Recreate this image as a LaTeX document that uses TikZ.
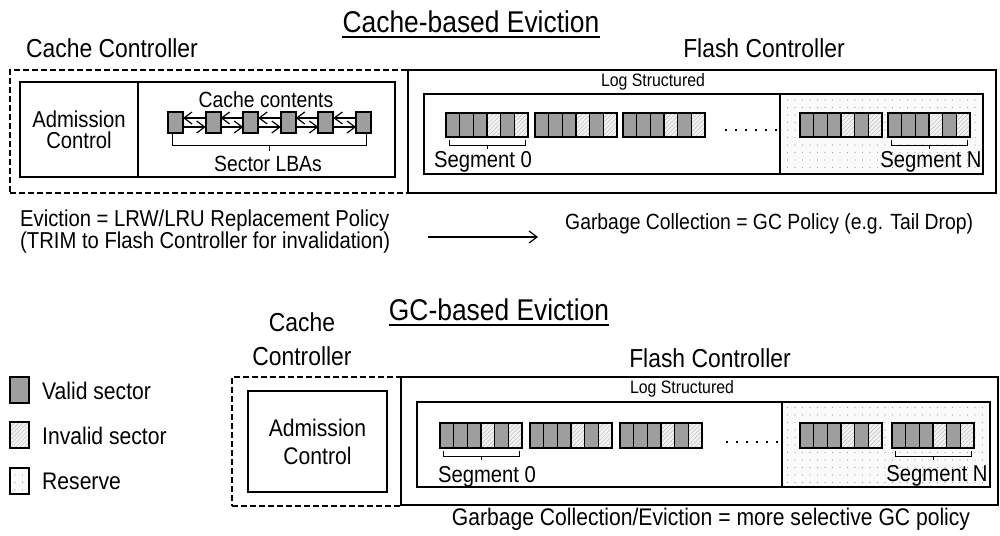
\documentclass[tikz,border=0pt]{standalone}
\usepackage{fontspec}
\setmainfont{Liberation Sans}[FakeStretch=0.88]
\usetikzlibrary{patterns.meta,arrows.meta,calc}

\tikzset{
  txt/.style={inner sep=0pt, font=\fontsize{24}{28}\selectfont},
  head/.style={inner sep=0pt, font=\fontsize{30}{34}\selectfont},
  ctrl/.style={inner sep=0pt, font=\fontsize{26}{34}\selectfont},
  smalltxt/.style={inner sep=0pt, font=\fontsize{18}{20}\selectfont},
  seglbl/.style={inner sep=0pt, font=\fontsize{23}{26}\selectfont},
  box/.style={draw, line width=1.2pt, inner sep=0pt, outer sep=0pt},
  dashbox/.style={draw, line width=2pt, dash pattern=on 6pt off 3pt, inner sep=0pt, outer sep=0pt},
  flashbox/.style={draw, line width=2pt, inner sep=0pt, outer sep=0pt},
  reservefill/.style={draw, line width=1.2pt, inner sep=0pt, outer sep=0pt,
    preaction={fill=gray!4},
    pattern={Dots[distance=7.5pt, radius=0.55pt]}, pattern color=gray!75},
  seghold/.style={inner sep=0pt, outer sep=0pt, minimum width=82pt},
  validcell/.style={fill=black!38, draw=black, line width=1.3pt},
  invalidcell/.style={draw=black, line width=1.3pt,
    preaction={fill=gray!10},
    pattern={Lines[angle=45, distance=3pt, line width=0.5pt]}, pattern color=gray!50},
  segedge/.style={draw=black, line width=2.6pt},
  brk/.style={draw, line width=1pt},
  sq/.style={draw, fill=black!38, line width=2pt, inner sep=0pt, outer sep=0pt,
    minimum width=15pt, minimum height=21pt},
  legsq/.style={draw, line width=2pt, inner sep=0pt, outer sep=0pt,
    minimum width=19pt, minimum height=26pt},
  linkarr/.style={draw, line width=1.2pt, -{Straight Barb[length=8pt, width=12pt, line width=1.2pt]}},
  mainarr/.style={draw, line width=1.2pt, -{Straight Barb[length=8pt, width=12pt, line width=1.2pt]}},
  uline/.style={draw, line width=2pt},
  dot/.style={fill=black, rectangle, inner sep=0pt, minimum size=2.6pt},
}

% one flash segment: name, left x, top y, height
\newcommand\flashseg[4]{%
  \node[seghold, minimum height=#4pt, anchor=north west] (#1) at (#2,#3) {};
  \foreach \i in {0,...,5}
    \path[validcell] ($(#1.north west)+(\i*82/6,0)$) rectangle ++(82/6,#4);
  \foreach \i in {3,5}
    \path[invalidcell] ($(#1.north west)+(\i*82/6,0)$) rectangle ++(82/6,#4);
  \draw[segedge] (#1.north west) rectangle (#1.south east);
}

% bracket under a segment
\newcommand\segbrace[1]{%
  \draw[brk] ($(#1.south west)+(3,3)$) -- ($(#1.south west)+(3,8)$)
     -- ($(#1.south east)+(-3,8)$) -- ($(#1.south east)+(-3,3)$);
  \draw[brk] ($(#1.south)+(0,8)$) -- ($(#1.south)+(0,12)$);
}

\begin{document}
\begin{tikzpicture}[x=1pt, y=-1pt]
\useasboundingbox (0,0) rectangle (1000,535);

%================ Cache-based eviction =================
\node[head] (title1) at (471,22) {Cache-based Eviction};
\draw[uline] ([yshift=-4pt]title1.base west) -- ([yshift=-4pt]title1.base east);

\node[ctrl] (cctl1) at (112,48) {Cache Controller};
\node[ctrl] (fctl1) at (764,48) {Flash Controller};

% controllers
\node[dashbox, minimum width=398pt, minimum height=123pt] (cc1) at (209,131.5) {};
\node[flashbox, minimum width=588pt, minimum height=123pt] (fc1) at (702,131.5) {};

\node[box, minimum width=118pt, minimum height=95pt, txt, align=center,
      font=\fontsize{23}{21}\selectfont] (adm1) at (79,129.5) {Admission\\Control};
\node[box, minimum width=257pt, minimum height=95pt] (cont1) at (266.5,129.5) {};

\node[txt, font=\fontsize{22}{24}\selectfont] (cconts) at (266,100) {Cache contents};
\foreach \i in {1,...,6}
  \node[sq] (c\i) at (175.5+37.6*\i-37.6,122.5) {};
\foreach \a/\b in {1/2,2/3,3/4,4/5,5/6} {
  \path[linkarr] ([yshift=4.5pt]c\b.west) -- ([yshift=4.5pt]c\a.east);
  \path[linkarr] ([yshift=-4.5pt]c\a.east) -- ([yshift=-4.5pt]c\b.west);
}
\draw[brk] ($(c1.south)+(-3,1)$) -- ($(c1.south)+(-3,12)$)
   -- ($(c6.south)+(3,12)$) -- ($(c6.south)+(3,1)$);
\draw[brk] ($(c1.south)!0.5!(c6.south)+(0,12)$) -- ($(c1.south)!0.5!(c6.south)+(0,18)$);
\node[txt, font=\fontsize{22}{24}\selectfont] (lbas) at (268,164) {Sector LBAs};

% log structured flash
\node[smalltxt] (log1) at (653,82) {Log Structured};
\node[box, minimum width=559pt, minimum height=80pt] (lg1) at (703.5,134) {};
\node[reservefill, minimum width=203pt, minimum height=80pt] (rs1) at (881.5,134) {};

\flashseg{sa0}{446}{113}{24}
\flashseg{sa1}{535}{113}{24}
\flashseg{sa2}{623}{113}{24}
\flashseg{sa3}{800}{113}{24}
\flashseg{saN}{888}{113}{24}
\foreach \i in {0,...,5}
  \node[dot] (da\i) at (726+10*\i,130) {};
\segbrace{sa0}
\segbrace{saN}
\node[seglbl] (la0) at (483,162) {Segment 0};
\node[seglbl] (laN) at (931,162) {Segment N};

% policies
\node[txt, anchor=west, font=\fontsize{23}{26}\selectfont] (ev1) at (20,221) {Eviction = LRW/LRU Replacement Policy};
\node[txt, anchor=west, font=\fontsize{23}{26}\selectfont] (ev2) at (20,243) {(TRIM to Flash Controller for invalidation)};
\node[txt, anchor=west, font=\fontsize{22}{26}\selectfont] (gc1) at (565,224) {Garbage Collection = GC Policy (e.g. Tail Drop)};
\coordinate (arrS) at (428,237);
\coordinate (arrE) at (538,237);
\path[mainarr] (arrS) -- (arrE);

%================ GC-based eviction =================
\node[head] (title2) at (499,310) {GC-based Eviction};
\draw[uline] ([yshift=-4pt]title2.base west) -- ([yshift=-4pt]title2.base east);

\node[ctrl, align=center] (cctl2) at (302,339) {Cache\\Controller};
\node[ctrl] (fctl2) at (710,358) {Flash Controller};

% legend
\node[legsq, fill=black!38] (lv) at (19.5,390) {};
\node[legsq, preaction={fill=gray!10},
      pattern={Lines[angle=45, distance=3pt, line width=0.5pt]}, pattern color=gray!50] (li) at (19.5,435) {};
\node[legsq, preaction={fill=gray!4},
      pattern={Dots[distance=7.5pt, radius=0.55pt]}, pattern color=gray!75] (lr) at (19.5,480.5) {};
\node[txt, anchor=west] (tv) at (42,391) {Valid sector};
\node[txt, anchor=west] (ti) at (42,436) {Invalid sector};
\node[txt, anchor=west] (tr) at (42,481) {Reserve};

% controllers
\node[dashbox, minimum width=169pt, minimum height=129pt] (cc2) at (316.5,441.5) {};
\node[box, minimum width=139pt, minimum height=101pt, txt, align=center,
      font=\fontsize{24}{28}\selectfont] (adm2) at (317.5,441.5) {Admission\\Control};
\node[flashbox, minimum width=597pt, minimum height=128pt] (fc2) at (699.5,441) {};

\node[smalltxt] (log2) at (682,389) {Log Structured};
\node[box, minimum width=573pt, minimum height=85pt] (lg2) at (703.5,444.5) {};
\node[reservefill, minimum width=208pt, minimum height=85pt] (rs2) at (886,444.5) {};

\flashseg{sb0}{440}{423}{25}
\flashseg{sb1}{530}{423}{25}
\flashseg{sb2}{620}{423}{25}
\flashseg{sb3}{800}{423}{25}
\flashseg{sbN}{892}{423}{25}
\foreach \i in {0,...,5}
  \node[dot] (db\i) at (727+10*\i,442) {};
\segbrace{sb0}
\segbrace{sbN}
\node[seglbl] (lb0) at (487,477) {Segment 0};
\node[seglbl] (lbN) at (937,476) {Segment N};

\node[txt] (gc2) at (711,519) {Garbage Collection/Eviction = more selective GC policy};
\end{tikzpicture}
\end{document}
